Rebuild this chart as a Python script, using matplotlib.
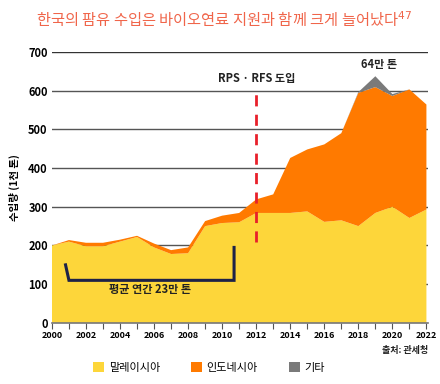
import numpy as np
import matplotlib
matplotlib.use("Agg")
import matplotlib.pyplot as plt
from matplotlib.patches import Patch

plt.rcParams['font.family'] = ['Noto Sans CJK KR', 'DejaVu Sans']

# Palm oil imports (thousand tonnes)
years = np.arange(2000, 2023)
malaysia = [200, 210, 198, 198, 210, 222, 195, 178, 180, 250, 258, 260,
            284, 284, 284, 288, 261, 265, 250, 284, 300, 271, 293]
indonesia = [0, 4, 9, 9, 5, 3, 10, 10, 15, 13, 19, 24,
             35, 48, 142, 160, 200, 225, 344, 325, 286, 332, 271]
other = [0, 0, 0, 0, 0, 0, 0, 0, 0, 0, 0, 0,
         0, 0, 0, 0, 0, 0, 2, 28, 5, 0, 0]
labels = ['말레이시아', '인도네시아', '기타']
colors = ['#FDD63A', '#FF7A00', '#7A7A7A']

# average bracket (2000s)
bracket_x = [2000.8, 2001.0, 2010.7, 2010.7]
bracket_y = [150, 110, 110, 195]

fig = plt.figure(figsize=(4.4, 3.84), dpi=100)
ax = fig.add_axes([0.118, 0.159, 0.855, 0.706])

for v in range(100, 701, 100):
    ax.axhline(v, color='#333333' if v == 700 else '#555555', lw=1.0, zorder=0)

ax.stackplot(years, malaysia, indonesia, other, colors=colors, zorder=2)

ax.plot(bracket_x, bracket_y, color='#1E2247', lw=2.2, zorder=3,
        solid_joinstyle='miter')
ax.text(2005.75, 86, '평균 연간 23만 톤', ha='center', va='center',
        fontsize=8, fontweight='bold', color='#222222', zorder=4)

ax.plot([2012, 2012], [210, 600], color='#E8202A', lw=2, ls=(0, (4, 3)), zorder=3)
ax.text(2012, 630, 'RPS · RFS 도입', ha='center', va='center',
        fontsize=8, fontweight='bold', color='#222222')
ax.text(2019.2, 667, '64만 톤', ha='center', va='center',
        fontsize=8, fontweight='bold', color='#222222')

ax.set_xlim(2000, 2022.1)
ax.set_ylim(0, 700)
ax.set_yticks(range(0, 701, 100))
ax.set_yticklabels([str(v) for v in range(0, 701, 100)], fontsize=8,
                   fontweight='bold')
ax.set_xticks(years)
ax.set_xticklabels([str(y) if y % 2 == 0 else '' for y in years],
                   fontsize=6.5, fontweight='bold')
ax.tick_params(axis='y', length=0, pad=3)
ax.tick_params(axis='x', length=4, color='#555555', pad=2)
for s in ['top', 'right', 'left']:
    ax.spines[s].set_visible(False)
ax.spines['bottom'].set_color('#777777')
ax.spines['bottom'].set_linewidth(1.2)

ax.set_ylabel('수입량 (1천 톤)', fontsize=7.5, fontweight='bold', labelpad=6)

fig.text(0.51, 0.947, '한국의 팜유 수입은 바이오연료 지원과 함께 크게 늘어났다$^{47}$',
         ha='center', va='center', fontsize=11, color='#F0654A')
fig.text(0.973, 0.088, '출처: 관세청', ha='right', va='center',
         fontsize=6.5, fontweight='bold', color='#222222')

handles = [Patch(facecolor=c, edgecolor='none') for c in colors]
fig.legend(handles, labels, loc='center', bbox_to_anchor=(0.475, 0.042),
           ncol=3, frameon=False, fontsize=8, handlelength=1.0,
           handleheight=1.0, columnspacing=2.8, handletextpad=0.4)

fig.savefig('out.png', dpi=100)
